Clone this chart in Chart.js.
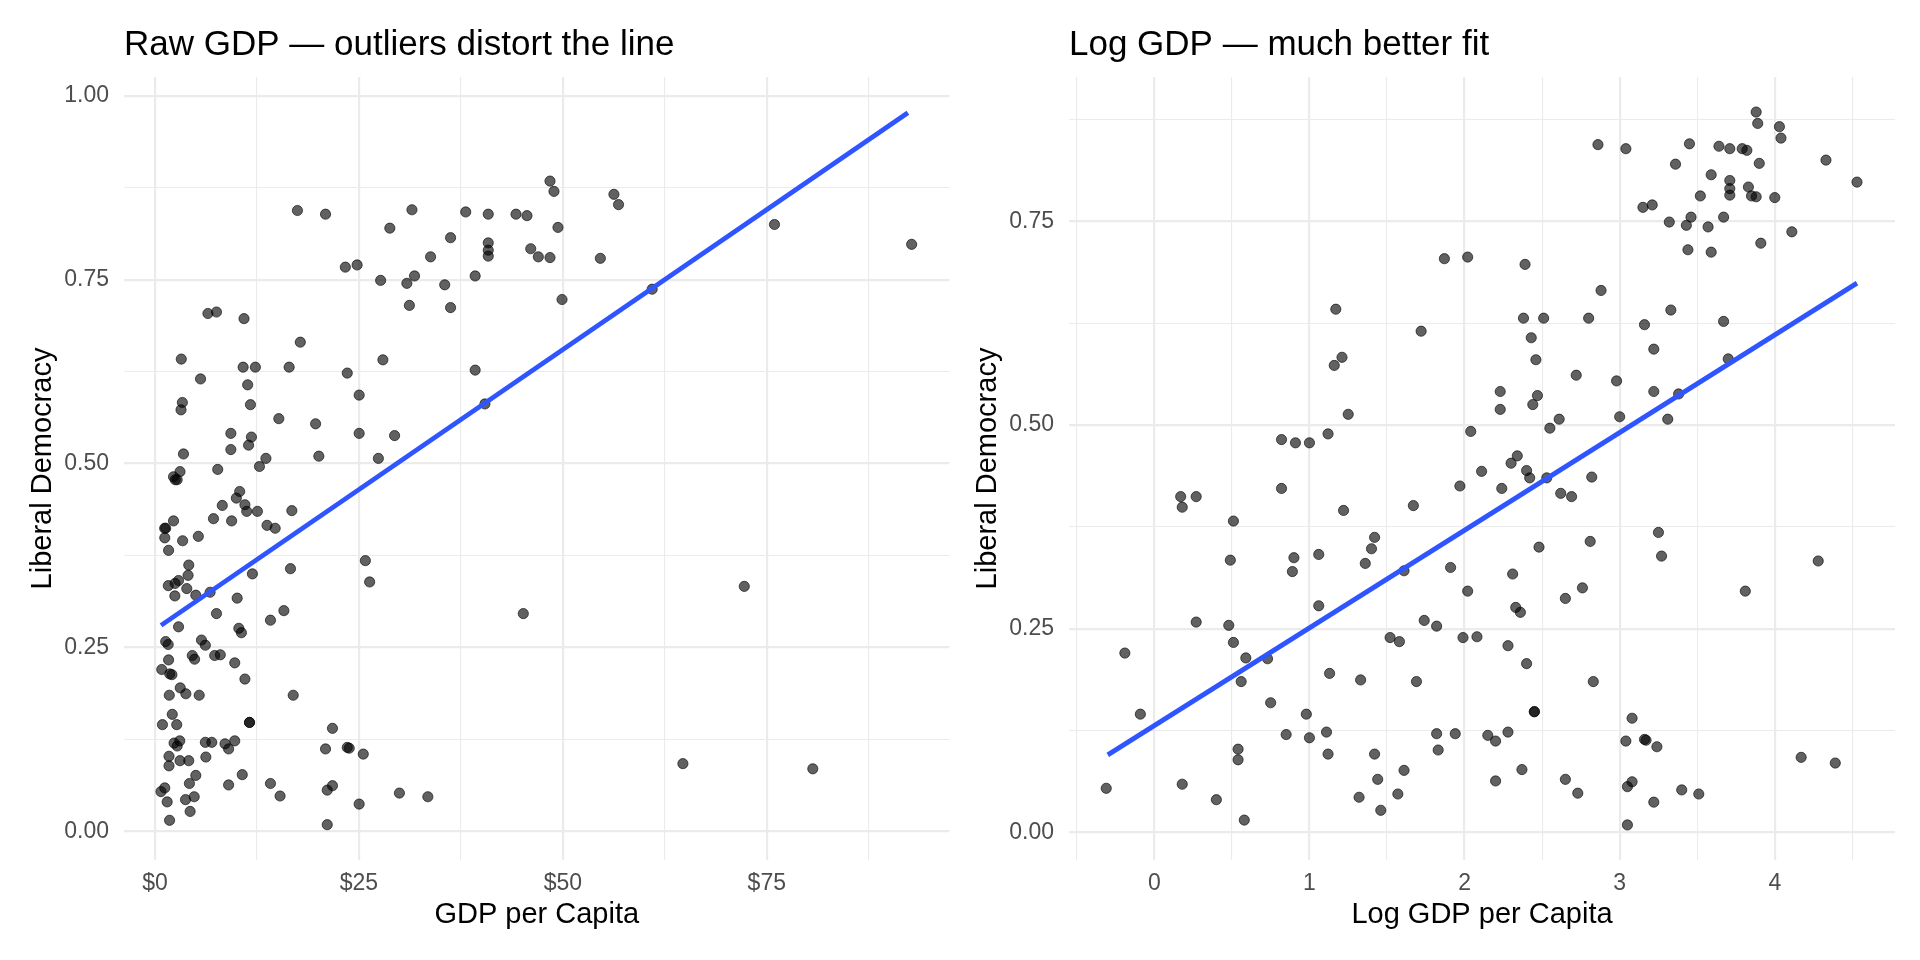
<!DOCTYPE html>
<html>
<head>
<meta charset="utf-8">
<script src="https://cdn.jsdelivr.net/npm/chart.js@4"></script>
<style>
  body { margin: 0; background: #fff; }
  #wrap { position: relative; width: 1920px; height: 960px; }
  canvas { position: absolute; top: 0; }
</style>
</head>
<body>
<div id="wrap">
  <canvas id="rawChart" width="960" height="960" style="left:0"></canvas>
  <canvas id="logChart" width="960" height="960" style="left:960px"></canvas>
</div>
<script>
// natural log of GDP per capita ($ thousands), one value per country
var logGdp = [
  1.87, 2.02, 1.17, 1.72, 1.21, 1.16, 1.25, 1.12, 0.82, 0.91, 1.00, 2.04, 2.11,
  3.88, 3.89, 4.03, 4.04, 2.86, 3.04, 3.45, 3.64, 3.71, 3.79, 3.82, 3.36, 3.90, 4.33, 4.53,
  3.59, 3.71, 3.71, 3.71, 3.83, 3.85, 3.88, 4.00, 3.52, 3.15, 3.21, 3.46, 3.32, 3.43, 3.57, 3.67,
  4.11, 3.91, 3.44, 3.59, 2.39, 2.88, 2.38, 2.51, 2.80, 3.33, 3.16, 3.67, 2.43, 2.46, 3.22, 3.70,
  2.72, 2.98, 2.23, 2.23, 2.47, 2.44, 3.22, 3.38, 3.00, 3.31, 2.61, 2.55, 2.34, 2.30, 2.40, 2.42, 2.82,
  0.17, 0.27, 0.18, 0.82, 0.51, 1.22, 1.67, 1.97, 2.24, 1.42, 1.40, 1.36, 0.49, 0.90, 0.89, 1.06,
  1.61, 1.91, 2.02, 1.06, 0.27, 0.48, 0.51, -0.19, 0.59, 0.73, 0.56, 1.13, 1.33, 1.69, 1.74, 1.82,
  1.52, 1.58, 1.99, 2.08, 0.75, 0.98, -0.09, 0.85, 1.00, 1.11, 1.12, 0.54, 0.54, 1.42, 1.61, 1.44,
  1.32, 1.57, 1.46, 1.82, 1.94, 1.83, 2.15, 2.20, 2.20, -0.31, 0.18, 0.40, 0.58,
  2.53, 2.62, 2.69, 3.25, 3.27, 2.48, 2.81, 2.31, 2.76, 2.65, 2.33, 2.36, 3.81, 4.28,
  2.28, 2.40, 2.83, 2.45, 2.45, 3.08, 2.28, 3.04, 3.16, 3.17, 3.24,
  2.37, 2.65, 2.73, 3.05, 3.08, 3.22, 3.40, 3.51, 3.05, 4.17, 4.39
];
// liberal democracy index, same order
var libDem = [
  0.704, 0.706, 0.642, 0.615, 0.583, 0.573, 0.513, 0.489, 0.482, 0.478, 0.478, 0.492, 0.443,
  0.884, 0.870, 0.866, 0.852, 0.844, 0.839, 0.845, 0.842, 0.839, 0.839, 0.837, 0.820, 0.821, 0.825, 0.798,
  0.807, 0.800, 0.790, 0.782, 0.792, 0.781, 0.780, 0.779, 0.781, 0.767, 0.770, 0.755, 0.749, 0.745, 0.743, 0.755,
  0.737, 0.723, 0.715, 0.712, 0.697, 0.665, 0.631, 0.631, 0.631, 0.641, 0.623, 0.627, 0.607, 0.580, 0.593, 0.581,
  0.561, 0.554, 0.541, 0.519, 0.536, 0.525, 0.541, 0.538, 0.510, 0.507, 0.507, 0.496, 0.462, 0.453, 0.444, 0.435, 0.436,
  0.412, 0.412, 0.399, 0.422, 0.382, 0.395, 0.401, 0.425, 0.422, 0.362, 0.348, 0.330, 0.334, 0.337, 0.320, 0.341,
  0.321, 0.325, 0.296, 0.278, 0.258, 0.254, 0.233, 0.220, 0.214, 0.213, 0.185, 0.195, 0.187, 0.185, 0.260, 0.253,
  0.239, 0.234, 0.239, 0.240, 0.159, 0.145, 0.145, 0.120, 0.116, 0.123, 0.096, 0.102, 0.089, 0.096, 0.076, 0.065,
  0.043, 0.047, 0.027, 0.121, 0.121, 0.101, 0.119, 0.112, 0.063, 0.054, 0.059, 0.040, 0.015,
  0.435, 0.416, 0.412, 0.368, 0.339, 0.350, 0.357, 0.317, 0.300, 0.287, 0.276, 0.270, 0.296, 0.333,
  0.229, 0.207, 0.185, 0.148, 0.148, 0.140, 0.123, 0.112, 0.114, 0.113, 0.105,
  0.077, 0.065, 0.048, 0.056, 0.062, 0.037, 0.052, 0.047, 0.009, 0.092, 0.085
];

// fitted lines (ends of the lm line in each panel)
var fitRawX = [0.74, 92.3];
var fitRawY = [0.280, 0.977];
var fitLogX = [-0.30, 4.53];
var fitLogY = [0.095, 0.674];

// axis ticks
var rawXTicks = [0, 25, 50, 75];
var rawXMinor = [12.5, 37.5, 62.5, 87.5];
var rawYTicks = [0, 0.25, 0.5, 0.75, 1];
var rawYMinor = [0.125, 0.375, 0.625, 0.875];
var logXTicks = [0, 1, 2, 3, 4];
var logXMinor = [-0.5, 0.5, 1.5, 2.5, 3.5, 4.5];
var logYTicks = [0, 0.25, 0.5, 0.75];
var logYMinor = [0.125, 0.375, 0.625, 0.875];

Chart.defaults.font.family = '"Liberation Sans", Arial, Helvetica, sans-serif';
Chart.defaults.animation = false;

function pairs(xs, ys) {
  var out = [];
  for (var i = 0; i < xs.length; i++) out.push({ x: xs[i], y: ys[i] });
  return out;
}

function tickList(major, minor) {
  return major.concat(minor).sort(function (a, b) { return a - b; })
    .map(function (v) { return { value: v }; });
}

function axis(o) {
  return {
    type: "linear",
    min: o.min,
    max: o.max,
    afterBuildTicks: function (s) { s.ticks = tickList(o.major, o.minor); },
    afterFit: function (s) {
      if (o.horizontal) s.height = 90; else s.width = o.width;
    },
    ticks: {
      autoSkip: false,
      maxRotation: 0,
      padding: o.horizontal ? 10 : 15,
      color: "#4d4d4d",
      font: { size: 23 },
      callback: function (v) { return o.major.indexOf(v) >= 0 ? o.fmt(v) : ""; }
    },
    grid: {
      color: "#ebebeb",
      drawTicks: false,
      lineWidth: function (c) {
        return c.tick && o.major.indexOf(c.tick.value) >= 0 ? 2.2 : 1.1;
      }
    },
    border: { display: false },
    title: {
      display: true,
      text: o.title,
      color: "#000",
      font: { size: 29 },
      padding: o.horizontal ? { top: 0, bottom: 18 } : { top: o.titlePad, bottom: 0 }
    }
  };
}

function drawPanel(id, o) {
  var titlePlugin = {
    id: "panelTitle",
    afterDraw: function (chart) {
      var ctx = chart.ctx;
      ctx.save();
      ctx.font = '35px "Liberation Sans", Arial, sans-serif';
      ctx.fillStyle = "#000";
      ctx.textBaseline = "alphabetic";
      ctx.fillText(o.title, chart.chartArea.left, 55);
      ctx.restore();
    }
  };

  return new Chart(document.getElementById(id), {
    type: "scatter",
    data: {
      datasets: [
        {
          data: o.fit,
          showLine: true,
          borderColor: "#2E55FF",
          borderWidth: 4.8,
          pointRadius: 0,
          order: 0
        },
        {
          data: o.points,
          pointRadius: 5.1,
          backgroundColor: "rgba(0,0,0,0.62)",
          borderColor: "rgba(0,0,0,0.62)",
          borderWidth: 1,
          order: 1
        }
      ]
    },
    options: {
      responsive: false,
      devicePixelRatio: 1,
      layout: { padding: { top: 77, bottom: 10, left: 0, right: o.padRight } },
      plugins: { legend: { display: false }, tooltip: { enabled: false } },
      scales: { x: o.x, y: o.y }
    },
    plugins: [titlePlugin]
  });
}

drawPanel("rawChart", {
  title: "Raw GDP \u2014 outliers distort the line",
  points: pairs(logGdp.map(function (v) { return Math.exp(v); }), libDem),
  fit: pairs(fitRawX, fitRawY),
  padRight: 10.5,
  x: axis({ horizontal: true, min: -3.8, max: 97.4, major: rawXTicks, minor: rawXMinor,
            fmt: function (v) { return "$" + v; }, title: "GDP per Capita" }),
  y: axis({ min: -0.039, max: 1.0255, major: rawYTicks, minor: rawYMinor, width: 124, titlePad: 26,
            fmt: function (v) { return v.toFixed(2); }, title: "Liberal Democracy" })
});

drawPanel("logChart", {
  title: "Log GDP \u2014 much better fit",
  points: pairs(logGdp, libDem),
  fit: pairs(fitLogX, fitLogY),
  padRight: 25,
  x: axis({ horizontal: true, min: -0.55, max: 4.775, major: logXTicks, minor: logXMinor,
            fmt: function (v) { return String(v); }, title: "Log GDP per Capita" }),
  y: axis({ min: -0.034, max: 0.927, major: logYTicks, minor: logYMinor, width: 109, titlePad: 11,
            fmt: function (v) { return v.toFixed(2); }, title: "Liberal Democracy" })
});
</script>
</body>
</html>
